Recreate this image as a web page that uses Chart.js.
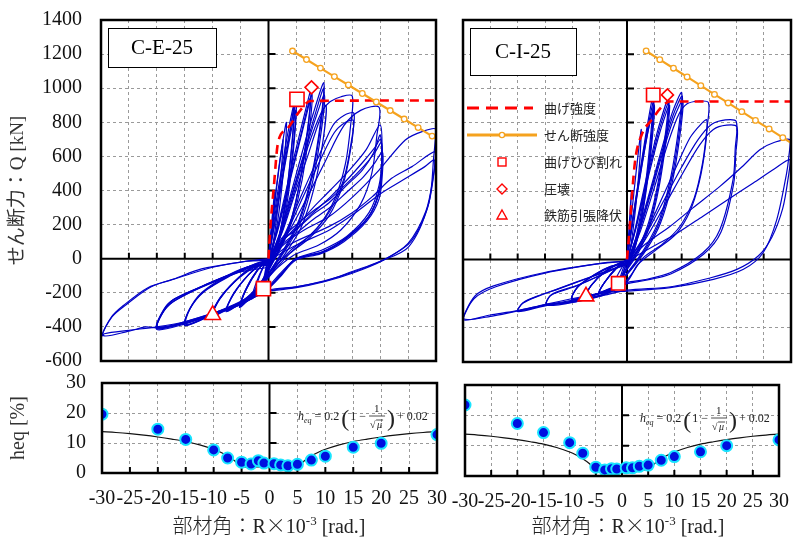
<!DOCTYPE html>
<html>
<head>
<meta charset="utf-8">
<script src="https://cdn.jsdelivr.net/npm/chart.js@4.4.1/dist/chart.umd.min.js"></script>
<style>
  html, body { margin: 0; padding: 0; background: #fff; }
  #wrap { position: relative; width: 803px; height: 540px; overflow: hidden; }
  #wrap canvas { position: absolute; left: 0; top: 0; }
  .xtitle {
    position: absolute; top: 513px; transform: translateX(-50%);
    font: 20px 'Liberation Serif', 'Noto Sans CJK JP', serif; color: #222;
    white-space: nowrap; line-height: 24px;
  }
  .xtitle .jp { font-family: 'Noto Sans CJK JP', sans-serif; font-weight: 300; }
  .xtitle sup { font-size: 13px; vertical-align: top; position: relative; top: -4px; }
</style>
</head>
<body>
<div id="wrap">
  <canvas id="cE" width="803" height="540"></canvas>
  <canvas id="cI" width="803" height="540"></canvas>
  <canvas id="hE" width="803" height="540"></canvas>
  <canvas id="hI" width="803" height="540"></canvas>
  <div class="xtitle" style="left:269px"><span class="jp">部材角：</span>R<span class="jp">×</span>10<sup>-3</sup> [rad.]</div>
  <div class="xtitle" style="left:628px"><span class="jp">部材角：</span>R<span class="jp">×</span>10<sup>-3</sup> [rad.]</div>
</div>
<script>
// ── Data: [R (×10^-3 rad), Q (kN)] ───────────────────────────────────────
// C-E-25 hysteresis loops
const loopsE = [
  [[0,0],[0.4,150],[0.9,330],[1.1,390],[0.8,230],[0.3,50],[0,0],[-0.5,-90],[-1.1,-177],[-0.8,-110],[-0.3,-30],[0,0]],
  [[0,0],[0.8,250],[1.8,520],[2.6,700],[2.3,520],[1.4,220],[0.4,20],[-0.8,-120],[-2,-200],[-2.6,-225],[-2,-140],[-0.8,-40],[0,0]],
  [[0,0],[0.9,260],[2,560],[3.2,800],[2.9,600],[1.9,280],[0.6,30],[-0.9,-130],[-2.2,-205],[-3,-235],[-2.3,-150],[-1,-50],[0,0]],
  [[0,0],[1,220],[2.5,520],[4,780],[5,940],[4.6,720],[3.4,380],[1.8,110],[0.3,-30],[-1.5,-170],[-3.5,-235],[-5,-270],[-4,-180],[-2,-70],[0,0]],
  [[0,0],[0.9,230],[2.2,500],[3.6,760],[4.7,920],[4.3,700],[3.1,350],[1.7,100],[0.2,-35],[-1.4,-165],[-3.4,-230],[-4.9,-265],[-3.9,-175],[-1.9,-65],[0,0]],
  [[0,0],[1.2,230],[2.7,520],[3.9,750],[4.6,900],[4.2,680],[3,330],[1.6,90],[0.2,-40],[-1.6,-175],[-3.6,-240],[-5,-280],[-4.2,-190],[-2.2,-75],[0,0]],
  [[0,0],[1.3,240],[2.9,540],[4,740],[4.9,870],[4.5,650],[3.3,320],[1.8,90],[0.3,-45],[-1.7,-180],[-3.8,-245],[-5.2,-285],[-4.3,-195],[-2.3,-80],[0,0]],
  [[0,-10],[1.5,170],[3.5,450],[5.5,720],[7,920],[7.6,990],[7.2,800],[5.8,480],[4,220],[2,60],[0,-60],[-2,-170],[-4.5,-245],[-7.5,-300],[-6.2,-200],[-3.5,-90],[-1,-20],[0,-10]],
  [[0,-10],[1.6,170],[3.6,440],[5.6,700],[7.1,900],[7.8,965],[7.4,780],[6,460],[4.1,210],[2.1,55],[0,-65],[-2.1,-175],[-4.6,-250],[-7.5,-305],[-6.2,-205],[-3.5,-92],[-1,-22],[0,-10]],
  [[0,-10],[1.7,170],[3.8,450],[5.7,700],[7,870],[7.5,940],[7,760],[5.6,450],[3.8,200],[1.8,50],[0,-70],[-2.2,-180],[-4.8,-255],[-7.6,-310],[-6.3,-210],[-3.6,-95],[-1,-25],[0,-10]],
  [[0,-20],[2,150],[4,380],[6,620],[8,850],[9.9,1032],[9.4,820],[7.8,500],[5.5,230],[3,70],[0.5,-60],[-2,-180],[-5,-255],[-8,-300],[-10,-330],[-8.7,-230],[-6,-130],[-3,-50],[0,-20]],
  [[0,-20],[2.1,150],[4.1,370],[6.2,600],[8.2,830],[9.9,1000],[9.4,790],[7.8,480],[5.5,215],[3,60],[0.4,-70],[-2.1,-185],[-5.1,-260],[-8.1,-305],[-10.1,-335],[-8.7,-235],[-6,-132],[-3,-52],[0,-20]],
  [[0,-20],[2.2,150],[4.3,380],[6.4,610],[8.4,820],[10,960],[9.5,760],[7.9,450],[5.6,200],[3,50],[0.4,-75],[-2.2,-190],[-5.2,-265],[-8.2,-310],[-10.2,-340],[-8.8,-240],[-6.1,-135],[-3,-55],[0,-20]],
  [[0,-25],[2.4,150],[4.8,390],[7,600],[8.8,780],[10.3,900],[9.8,700],[8.2,420],[5.8,180],[3,30],[0.3,-90],[-2.4,-195],[-5.4,-270],[-8.4,-315],[-10.4,-345],[-9,-245],[-6.2,-140],[-3,-60],[0,-25]],
  [[0,-30],[2,120],[4.5,380],[7,650],[9.5,860],[11,920],[13,950],[15,954],[14.7,780],[13.8,560],[12,360],[9,190],[5.5,80],[2,-20],[0,-110],[-3,-220],[-7,-290],[-11,-345],[-15,-390],[-14.2,-300],[-12,-200],[-8,-110],[-4,-50],[0,-30]],
  [[0,-40],[3,150],[6,380],[9,600],[11.5,780],[13.5,840],[15.3,853],[14.8,680],[13.5,470],[11,280],[7.5,140],[4,50],[0,-90],[-3,-215],[-7,-285],[-11,-340],[-14.8,-385],[-14,-290],[-11.5,-190],[-7,-100],[-3,-40],[0,-40]],
  [[0,-40],[3.2,150],[6.3,370],[9.3,580],[11.8,740],[13.8,800],[15.2,810],[14.7,640],[13.3,430],[10.8,250],[7.3,120],[3.8,30],[0,-110],[-3.2,-220],[-7.2,-290],[-11.2,-345],[-15,-392],[-14.1,-295],[-11.6,-195],[-7.1,-105],[-3.1,-45],[0,-40]],
  [[0,-50],[3,120],[6,300],[10,560],[13.5,780],[16.5,870],[19.8,888],[19.4,720],[18.5,500],[16.5,320],[13,170],[9,80],[4.5,20],[0,-100],[-4,-230],[-8,-295],[-12,-345],[-16,-385],[-20,-410],[-19,-320],[-17,-250],[-12,-165],[-6,-85],[0,-50]],
  [[0,-10],[2.5,100],[5,190],[8,300],[11,400],[14.5,520],[17.5,640],[20,784],[20.3,600],[19.8,430],[18,270],[14,130],[9.6,51],[4.9,0],[2,-90],[0,-160],[-3,-225],[-6,-275],[-10,-320],[-15,-370],[-20,-405],[-18.8,-300],[-17,-240],[-12,-165],[-6.2,-85],[-2,-30],[0,-10]],
  [[0,-10],[2.5,110],[4.9,168],[8,260],[10.8,327],[14,430],[16.8,520],[18.8,620],[20,725],[20.3,560],[19.9,400],[18,250],[13.8,120],[9.6,40],[4.9,0],[2,-100],[0,-170],[-3,-230],[-6,-280],[-10,-325],[-15,-375],[-19.8,-400],[-18.6,-295],[-16.8,-235],[-11.8,-160],[-6,-80],[-2,-25],[0,-10]],
  [[0,-12],[2.5,105],[5,175],[8,270],[11,360],[14,460],[17,570],[19,650],[20.1,700],[20.3,550],[19.8,390],[17.9,245],[13.7,115],[9.5,38],[4.8,-3],[2,-102],[0,-170],[-3,-232],[-6,-282],[-10,-327],[-15,-378],[-19.9,-405],[-18.7,-298],[-16.9,-238],[-11.9,-162],[-6,-82],[-2,-27],[0,-12]],
  [[0,-15],[2.6,90],[5,150],[8,230],[11,300],[14,390],[17,480],[19,560],[20.4,625],[20.4,500],[19.8,350],[17.6,220],[13.5,100],[9.4,30],[4.8,-10],[2,-110],[0,-175],[-3.1,-235],[-6.2,-285],[-10.2,-330],[-15.2,-385],[-20,-415],[-19.1,-325],[-17.2,-255],[-12.2,-170],[-6.1,-90],[-2,-35],[0,-15]],
  [[0,-10],[2.4,120],[5,200],[8,280],[11,350],[14,440],[17,540],[19,620],[20.2,680],[20.3,540],[19.7,380],[17.8,240],[13.6,110],[9.5,35],[4.8,-5],[2,-105],[0,-172]],
  [[0,0],[3.7,110],[7,180],[10.8,246],[15,360],[19.8,520],[24.5,696],[27.5,745],[30,759],[29.6,600],[28.7,325],[25.1,70],[19.8,-18],[15,-75],[10.8,-125],[5,-165],[0,-190],[-5,-265],[-10,-320],[-15,-370],[-20,-400],[-25,-420],[-29.4,-440],[-30,-460],[-28.2,-345],[-26,-275],[-21.6,-170],[-17,-120],[-12,-60],[-5,-20],[0,0]],
  [[0,-10],[4.3,92],[10.8,188],[15,270],[18.6,364],[22,470],[25.7,540],[29.9,628],[29.7,520],[28.5,300],[25.5,100],[21,0],[15,-80],[10,-130],[5,-165],[0,-185],[-5,-270],[-10,-325],[-15,-375],[-20,-405],[-22,-400],[-25,-425],[-29.6,-450],[-28,-340],[-25.5,-270],[-21,-165],[-16,-110],[-10,-50],[-4,-15],[0,-10]],
  [[0,-10],[5,80],[11,170],[16,280],[20,380],[24,460],[28,540],[29.7,579],[29.5,480],[28.2,280],[25,90],[20.5,-10],[15,-85],[10,-135],[5,-170],[0,-190]]
];
const flexE  = [[0,0],[0.35,190],[0.95,420],[1.7,680],[3.3,760],[5.7,870],[7.5,925],[30,928]];
const shearE = [[4.3,1218],[6.8,1168],[9.3,1118],[11.8,1068],[14.3,1019],[16.8,969],[19.3,919],[21.8,869],[24.3,819],[26.8,769],[29.3,719],[30,705]];
const crackE = [[5.1,935],[-0.9,-176]];
const crushE = [[7.7,1005]];
const yieldE = [[-10,-330]];

// C-I-25 hysteresis loops
const loopsI = [
  [[0,0],[0.4,200],[0.8,400],[0.6,250],[0.2,50],[0,0],[-0.6,-70],[-1.6,-140],[-1,-80],[-0.3,-20],[0,0]],
  [[0,0],[0.8,250],[1.7,520],[2.6,760],[2.3,560],[1.4,250],[0.4,30],[-1,-100],[-2.5,-160],[-2,-110],[-0.8,-40],[0,0]],
  [[0,0],[1,230],[2.4,520],[3.7,780],[4.8,962],[4.4,750],[3.3,420],[1.8,150],[0.5,0],[-1.5,-140],[-3.5,-175],[-5,-190],[-4,-130],[-2,-50],[0,0]],
  [[0,0],[1.05,235],[2.5,525],[3.8,770],[4.9,930],[4.5,725],[3.4,410],[1.9,140],[0.55,-5],[-1.55,-142],[-3.55,-178],[-5.05,-192],[-4.05,-132],[-2,-52],[0,0]],
  [[0,0],[1.1,240],[2.6,530],[3.9,760],[5,900],[4.6,700],[3.5,400],[2,130],[0.6,-10],[-1.6,-145],[-3.6,-180],[-5.1,-195],[-4.1,-135],[-2,-55],[0,0]],
  [[0,0],[1.2,250],[2.7,540],[3.8,740],[4.7,860],[4.3,640],[3.2,350],[1.8,110],[0.5,-15],[-1.6,-148],[-3.7,-182],[-5.2,-198],[-4.2,-138],[-2.1,-58],[0,0]],
  [[0,-10],[1.5,180],[3.5,470],[5.5,740],[7,900],[7.6,950],[7.2,780],[5.8,470],[4,220],[2,60],[0,-50],[-2.5,-165],[-5,-195],[-7.5,-216],[-6.5,-150],[-4,-70],[-1,-15],[0,-10]],
  [[0,-10],[1.6,185],[3.65,470],[5.65,730],[7.1,880],[7.7,925],[7.25,755],[5.85,450],[4.05,205],[2.05,50],[0,-55],[-2.55,-168],[-5.05,-198],[-7.55,-219],[-6.55,-152],[-4.05,-72],[-1,-16],[0,-10]],
  [[0,-10],[1.7,190],[3.8,470],[5.8,720],[7.2,860],[7.8,900],[7.3,730],[5.9,430],[4.1,190],[2.1,40],[0,-60],[-2.6,-170],[-5.1,-200],[-7.6,-222],[-6.6,-155],[-4.1,-75],[-1,-18],[0,-10]],
  [[0,-20],[2,160],[4.2,400],[6.3,640],[8.3,860],[10,976],[9.5,780],[8,480],[6,240],[3.5,80],[0.5,-60],[-2.5,-170],[-6,-205],[-10,-230],[-9,-160],[-6,-90],[-3,-40],[0,-20]],
  [[0,-20],[2.1,160],[4.3,395],[6.4,630],[8.4,840],[10.1,955],[9.6,755],[8.1,460],[6.05,225],[3.55,70],[0.5,-65],[-2.55,-172],[-6.05,-207],[-10.05,-232],[-9.05,-162],[-6.05,-92],[-3,-42],[0,-20]],
  [[0,-20],[2.2,160],[4.4,390],[6.5,620],[8.5,820],[10.2,930],[9.7,730],[8.2,440],[6.1,210],[3.6,60],[0.5,-70],[-2.6,-175],[-6.1,-210],[-10.1,-235],[-9.1,-165],[-6.1,-95],[-3,-45],[0,-20]],
  [[0,-30],[2.5,170],[5,420],[7.5,680],[9.5,850],[11,910],[13,925],[14.9,917],[14.6,760],[13.8,560],[12.3,360],[9.7,194],[6.5,90],[3,10],[0,-120],[-4,-200],[-9,-240],[-14.7,-262],[-14.1,-214],[-11.5,-180],[-9.2,-155],[-6,-110],[-2.6,-60],[0,-30]],
  [[0,-20],[3,130],[6,330],[9,540],[11.5,710],[13.5,790],[14.6,816],[14.3,650],[13.2,450],[11.5,280],[9,150],[5.5,60],[2,-30],[0,-130],[-4,-205],[-9,-245],[-14.7,-268],[-13.8,-205],[-9,-150],[-3,-65],[0,-20]],
  [[0,-20],[3,120],[6.5,330],[10,540],[13,700],[15.5,790],[18,816],[20,806],[19.8,650],[19.4,466],[17,175],[13.9,39],[7.9,-78],[3,-120],[0,-136],[-4,-200],[-9,-240],[-14.7,-265],[-19.9,-301],[-19,-253],[-16,-210],[-12.9,-175],[-6.2,-97],[-1.3,-39],[0,-20]],
  [[0,-25],[3.2,110],[6.8,310],[10.3,510],[13.3,670],[15.8,760],[18.2,785],[20.1,775],[19.9,620],[19.5,440],[17.2,160],[14,30],[8,-85],[3,-125],[0,-142],[-4.1,-205],[-9.1,-245],[-14.8,-270],[-20,-305],[-19.1,-257],[-16.1,-213],[-13,-178],[-6.3,-100],[-1.3,-42],[0,-25]],
  [[0,-20],[3,80],[7.9,194],[12,300],[17,427],[21,540],[24.3,641],[27,685],[29.8,700],[29.6,600],[29.2,505],[27.4,233],[24.9,39],[21.3,-58],[15.8,-117],[7.9,-165],[0,-185],[-3,-190],[-7.6,-214],[-14.7,-262],[-19.9,-301],[-24.4,-330],[-29.9,-346],[-27.8,-214],[-24.4,-155],[-15.3,-78],[-4.9,-23],[0,-10]],
  [[0,-10],[5,80],[9,150],[13.9,253],[18,340],[23.1,447],[27,530],[29.8,583],[29.5,480],[28.5,300],[26.5,130],[24,20],[20,-60],[15,-110],[8,-160],[0,-180],[-5,-215],[-10,-240],[-15,-265],[-20,-300],[-25,-325],[-30,-352],[-28,-230],[-24,-160],[-15,-80],[-5,-25],[0,-10]]
];
const flexI  = [[0,0],[0.5,190],[0.85,350],[1.5,580],[2.7,730],[4.5,815],[6.6,900],[7.8,923],[30,923]];
const shearI = [[3.5,1219],[6,1168],[8.5,1118],[11,1067],[13.5,1016],[16,965],[18.5,915],[21,864],[23.5,813],[26,763],[28.5,712],[30,682]];
const crackI = [[4.8,962],[-1.6,-140]];
const crushI = [[7.4,962]];
const yieldI = [[-7.5,-216]];

// Equivalent damping ratio heq [%]
const heqAngles = [-30,-20,-15,-10,-7.5,-5,-3.3,-2,-1,0.8,2,3.3,5,7.5,10,15,20,30];
const heqE      = [19.6,14.6,11.2,7.7,5.0,3.6,3.0,4.1,3.3,3.1,2.7,2.4,2.9,4.3,5.6,8.6,9.9,12.8];
const heqI      = [23.4,17.3,14.3,11.0,7.5,2.9,2.0,2.4,2.3,2.7,2.7,3.2,3.6,5.2,6.4,8.0,10.0,11.9];
const fitAngles = [-30,-27.5,-25,-22.5,-20,-17.5,-15,-12.5,-10,-8.75,-7.5,-6.25,-5,0,5,6.25,7.5,8.75,10,12.5,15,17.5,20,22.5,25,27.5,30];
const fitHeq    = [13.8,13.5,13.1,12.6,12.0,11.3,10.5,9.4,7.9,6.9,5.7,4.1,2.0,2.0,2.0,4.1,5.7,6.9,7.9,9.4,10.5,11.3,12.0,12.6,13.1,13.5,13.8];

// ── Styling ───────────────────────────────────────────────────────────
const SERIF  = "'Liberation Serif', 'Noto Sans CJK JP', serif";
const JP     = "'Noto Sans CJK JP', sans-serif";
const BLUE   = '#0000c8';
const RED    = '#ff0000';
const ORANGE = '#f5a21e';

const pts = arr => arr.map(p => ({ x: p[0], y: p[1] }));
const pairs = (xs, ys) => xs.map((x, i) => ({ x, y: ys[i] }));

function marker(data, style, r) {
  return { data: pts(data), pointStyle: style, pointRadius: r, pointBackgroundColor: '#fff',
           pointBorderColor: RED, pointBorderWidth: 1.6, showLine: false, order: 0 };
}

function hysteresisSets(loops, flex, shear, crack, crush, yld, sq, dia) {
  const sets = [
    marker(crack, 'rect', sq),
    marker(crush, 'rectRot', dia),
    marker(yld, 'triangle', 9),
    { data: pts(shear), showLine: true, borderColor: ORANGE, borderWidth: 2.2,
      pointRadius: shear.map((_, i) => i < shear.length - 1 ? 2.8 : 0),
      pointBackgroundColor: '#fff', pointBorderColor: ORANGE, pointBorderWidth: 1.3, order: 1 },
    { data: pts(flex), showLine: true, borderColor: RED, borderWidth: 2.6, borderDash: [9, 6],
      pointRadius: 0, tension: 0.35, cubicInterpolationMode: 'monotone', order: 1 },
  ];
  loops.forEach(l => sets.push({ data: pts(l), showLine: true, borderColor: BLUE, borderWidth: 1.2,
    pointRadius: 0, tension: 0.3, order: 2 }));
  return sets;
}

// ── Decorations: frame, zero axes, inner ticks, label box, legend, formula ──
function drawFormula(ctx, x, y) {
  ctx.fillStyle = '#222';
  ctx.textAlign = 'left';
  ctx.textBaseline = 'alphabetic';
  const put = (txt, font, dx, dy) => { ctx.font = font; ctx.fillText(txt, x + dx, y + dy); return ctx.measureText(txt).width; };
  let dx = 0;
  dx += put('h', 'italic 12px ' + SERIF, dx, 0);
  dx += put('eq', 'italic 8px ' + SERIF, dx, 3) + 3;
  dx += put('= 0.2', '12px ' + SERIF, dx, 0) + 2;
  dx += put('(', '24px ' + SERIF, dx, 6) + 1;
  dx += put('1 \u2212 ', '12px ' + SERIF, dx, 0);
  // fraction 1 / √μ
  const fw = 16;
  put('1', '11px ' + SERIF, dx + 5, -8);
  ctx.strokeStyle = '#222'; ctx.lineWidth = 0.8;
  ctx.beginPath(); ctx.moveTo(x + dx, y - 4); ctx.lineTo(x + dx + fw, y - 4); ctx.stroke();
  put('\u221A', '10px ' + SERIF, dx + 1, 8);
  put('\u03BC', 'italic 10px ' + SERIF, dx + 8, 8);
  ctx.beginPath(); ctx.moveTo(x + dx + 7, y); ctx.lineTo(x + dx + 14, y); ctx.stroke();
  dx += fw + 2;
  dx += put(')', '24px ' + SERIF, dx, 6) + 2;
  put('+ 0.02', '12px ' + SERIF, dx, 0);
}

function drawLegend(ctx, a) {
  const x0 = a.left + 4, mx = a.left + 39, tx = a.left + 81;
  const rows = [88, 115, 142, 169, 195].map(d => a.top + d);
  const labels = ['曲げ強度', 'せん断強度', '曲げひび割れ', '圧壊', '鉄筋引張降伏'];
  ctx.save();
  ctx.lineWidth = 3; ctx.strokeStyle = RED; ctx.setLineDash([12, 7]);
  ctx.beginPath(); ctx.moveTo(x0, rows[0]); ctx.lineTo(x0 + 66, rows[0]); ctx.stroke();
  ctx.setLineDash([]); ctx.strokeStyle = ORANGE;
  ctx.beginPath(); ctx.moveTo(x0, rows[1]); ctx.lineTo(x0 + 70, rows[1]); ctx.stroke();
  ctx.lineWidth = 1.3; ctx.fillStyle = '#fff';
  ctx.beginPath(); ctx.arc(mx, rows[1], 2.6, 0, Math.PI * 2); ctx.fill(); ctx.stroke();
  ctx.strokeStyle = RED; ctx.lineWidth = 1.4;
  ctx.strokeRect(mx - 4, rows[2] - 4, 8, 8);
  ctx.beginPath(); ctx.moveTo(mx, rows[3] - 5); ctx.lineTo(mx + 5, rows[3]); ctx.lineTo(mx, rows[3] + 5); ctx.lineTo(mx - 5, rows[3]); ctx.closePath(); ctx.stroke();
  ctx.beginPath(); ctx.moveTo(mx, rows[4] - 5); ctx.lineTo(mx + 5, rows[4] + 4); ctx.lineTo(mx - 5, rows[4] + 4); ctx.closePath(); ctx.stroke();
  ctx.fillStyle = '#222'; ctx.font = '13px ' + JP; ctx.textAlign = 'left'; ctx.textBaseline = 'middle';
  labels.forEach((t, i) => ctx.fillText(t, tx, rows[i]));
  ctx.restore();
}

const decor = {
  id: 'decor',
  beforeDatasetsDraw(chart, args, o) {
    const { ctx, chartArea: a, scales: { x, y } } = chart;
    const x0 = x.getPixelForValue(0);
    const yBase = o.zeroY ? y.getPixelForValue(0) : a.bottom;
    ctx.save();
    ctx.strokeStyle = '#000';
    ctx.lineWidth = 2;
    ctx.beginPath();
    ctx.moveTo(x0, a.top); ctx.lineTo(x0, a.bottom);
    if (o.zeroY) { ctx.moveTo(a.left, yBase); ctx.lineTo(a.right, yBase); }
    ctx.stroke();
    ctx.beginPath();
    x.ticks.forEach(t => {
      if (t.value > x.min && t.value < x.max && t.value !== 0) {
        const px = x.getPixelForValue(t.value);
        ctx.moveTo(px, yBase); ctx.lineTo(px, yBase - 6);
      }
    });
    y.ticks.forEach(t => {
      if (t.value > y.min && t.value < y.max && t.value !== 0) {
        const py = y.getPixelForValue(t.value);
        ctx.moveTo(x0, py); ctx.lineTo(x0 + 7, py);
      }
    });
    ctx.stroke();
    ctx.restore();
  },
  afterDraw(chart, args, o) {
    const { ctx, chartArea: a } = chart;
    ctx.save();
    ctx.strokeStyle = '#000';
    ctx.lineWidth = 2.5;
    ctx.strokeRect(a.left, a.top, a.right - a.left, a.bottom - a.top);
    if (o.label) {
      const [bx, by, bw, bh] = o.box;
      ctx.fillStyle = '#fff';
      ctx.fillRect(a.left + bx, a.top + by, bw, bh);
      ctx.lineWidth = 1;
      ctx.strokeRect(a.left + bx + 0.5, a.top + by + 0.5, bw, bh);
      ctx.fillStyle = '#000';
      ctx.font = '21px ' + SERIF;
      ctx.textAlign = 'center'; ctx.textBaseline = 'middle';
      ctx.fillText(o.label, a.left + bx + bw / 2, a.top + by + bh / 2 + 1);
    }
    if (o.legend) drawLegend(ctx, a);
    if (o.formula) drawFormula(ctx, a.right - 139, a.top + 37);
    ctx.restore();
  }
};

// ── Scale builders ────────────────────────────────────────────────────
const gridOpts = { color: '#9a9a9a', lineWidth: 1, drawTicks: false };
const dashBorder = { display: false, dash: [3, 3] };

function xScale(showTicks, h) {
  return {
    type: 'linear', min: -30, max: 30,
    grid: gridOpts, border: dashBorder,
    ticks: { display: showTicks, stepSize: 5, autoSkip: false, maxRotation: 0, padding: 14,
             color: '#111', font: { family: SERIF, size: 20 }, callback: v => v },
    afterFit: s => { s.height = h; }
  };
}

// label gap comes from an invisible tick length so the top padding stays small
function yScale(min, max, step, w, showTicks, gap, title, titleFont) {
  return {
    type: 'linear', min, max,
    grid: { color: '#9a9a9a', lineWidth: 1, drawTicks: true, tickLength: gap, tickColor: 'rgba(0,0,0,0)' },
    border: dashBorder,
    ticks: { display: showTicks, stepSize: step, padding: 1, color: '#111',
             font: { family: SERIF, size: 20 }, callback: v => v },
    title: title ? { display: true, text: title, color: '#333', font: titleFont, padding: { top: 7, bottom: 0 } } : { display: false },
    afterFit: s => { s.width = w; }
  };
}

function baseOptions(padding, scales, decorOpts) {
  return {
    responsive: false, animation: false, events: [],
    layout: { padding },
    plugins: { legend: { display: false }, tooltip: { enabled: false }, decor: decorOpts },
    scales
  };
}

// ── C-E-25 hysteresis ─────────────────────────────────────────────────
new Chart(document.getElementById('cE'), {
  type: 'scatter',
  data: { datasets: hysteresisSets(loopsE, flexE, shearE, crackE, crushE, yieldE, 10, 6.5) },
  options: baseOptions({ left: 0, top: 20, right: 803 - 436, bottom: 540 - 361 }, {
    x: xScale(false, 0),
    y: yScale(-600, 1400, 200, 101, true, 18, 'せん断力：Q [kN]', { family: SERIF, size: 19 })
  }, { zeroY: true, label: 'C-E-25', box: [7, 8, 108, 39] }),
  plugins: [decor]
});

// ── C-I-25 hysteresis ─────────────────────────────────────────────────
new Chart(document.getElementById('cI'), {
  type: 'scatter',
  data: { datasets: hysteresisSets(loopsI, flexI, shearI, crackI, crushI, yieldI, 9.5, 6) },
  options: baseOptions({ left: 463, top: 20, right: 803 - 791, bottom: 540 - 362 }, {
    x: xScale(false, 0),
    y: yScale(-600, 1400, 200, 0, false, 0)
  }, { zeroY: true, label: 'C-I-25', box: [7, 8, 106, 47], legend: true }),
  plugins: [decor]
});

// ── heq panels ────────────────────────────────────────────────────────
function heqSets(values) {
  return [
    { data: pairs(heqAngles, values), showLine: false, pointRadius: 5.5, pointBackgroundColor: '#0010e0',
      pointBorderColor: '#18e4ff', pointBorderWidth: 2, order: 0 },
    { data: pairs(fitAngles, fitHeq), showLine: true, borderColor: '#111', borderWidth: 1.2,
      pointRadius: 0, cubicInterpolationMode: 'monotone', order: 1 }
  ];
}

new Chart(document.getElementById('hE'), {
  type: 'scatter',
  data: { datasets: heqSets(heqE) },
  options: baseOptions({ left: 0, top: 383, right: 803 - 437, bottom: 0 }, {
    x: xScale(true, 540 - 473),
    y: yScale(0, 30, 10, 102, true, 15, 'heq [%]', { family: SERIF, size: 20 })
  }, { zeroY: false, formula: true }),
  plugins: [decor]
});

new Chart(document.getElementById('hI'), {
  type: 'scatter',
  data: { datasets: heqSets(heqI) },
  options: baseOptions({ left: 465, top: 385, right: 803 - 793, bottom: 0 }, {
    x: xScale(true, 540 - 476),
    y: yScale(0, 30, 10, 0, false, 0)
  }, { zeroY: false, formula: true }),
  plugins: [decor]
});
</script>
</body>
</html>
